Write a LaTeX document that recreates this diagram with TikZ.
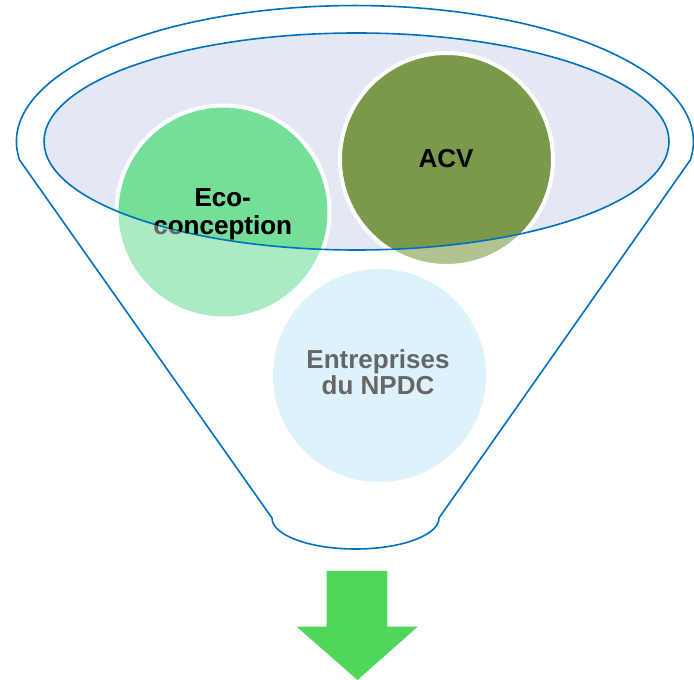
\documentclass[tikz,border=0pt]{standalone}
\usepackage{fontspec}
\setmainfont{Liberation Sans}
\definecolor{funnelblue}{HTML}{0070C0}
\definecolor{rimfill}{HTML}{E3E8F3}
\definecolor{ecodark}{HTML}{73DF98}
\definecolor{ecolight}{HTML}{AAEBC3}
\definecolor{acvdark}{HTML}{7A994A}
\definecolor{acvlight}{HTML}{B0C391}
\definecolor{entfill}{HTML}{DDF2FB}
\definecolor{arrowgreen}{HTML}{4FD75A}
\definecolor{textgray}{HTML}{666666}
\tikzset{
  outline/.style={draw=funnelblue, line width=1.6pt, line join=round},
  bubbleborder/.style={draw=white, line width=4pt},
  lbl/.style={font=\bfseries\fontsize{26}{28}\selectfont, anchor=base, inner sep=0pt},
}
\begin{document}
\begin{tikzpicture}[x=1pt,y=1pt]
\useasboundingbox (0,0) rectangle (694,680);
% funnel outline
\draw[outline] (272,162) -- (19.6,520)
  arc[start angle=187.8, end angle=-7.8, x radius=338.5, y radius=136]
  -- (439,162)
  arc[start angle=0, end angle=-180, x radius=83.5, y radius=31] -- cycle;
% rim fill
\fill[rimfill] (356.5,538.5) ellipse[x radius=312.5, y radius=108.5];
% bubbles (outside parts)
\fill[ecolight] (223,468) circle[radius=106.5];
\fill[acvlight] (446.5,520.5) circle[radius=106.5];
\fill[entfill] (379.5,304.5) circle[radius=106.5];
% bubbles (inside rim)
\begin{scope}
  \clip (356.5,538.5) ellipse[x radius=312.5, y radius=108.5];
  \fill[ecodark] (223,468) circle[radius=106.5];
  \fill[acvdark] (446.5,520.5) circle[radius=106.5];
\end{scope}
\draw[bubbleborder] (223,468) circle[radius=106.5];
\draw[bubbleborder] (446.5,520.5) circle[radius=106.5];
% rim outline
\draw[outline] (356.5,538.5) ellipse[x radius=312.5, y radius=108.5];
% labels
\node[lbl, text=textgray] (eco1o) at (222.7,473.3) {Eco-};
\node[lbl, text=textgray] (eco2o) at (222.7,445.7) {conception};
\begin{scope}
  \clip (356.5,538.5) ellipse[x radius=312.5, y radius=108.5];
  \node[lbl, text=black] (eco1) at (222.7,473.3) {Eco-};
  \node[lbl, text=black] (eco2) at (222.7,445.7) {conception};
\end{scope}
\node[lbl, text=black] (acv) at (446,512) {ACV};
\node[lbl, text=textgray] (ent1) at (378,311) {Entreprises};
\node[lbl, text=textgray] (ent2) at (378,285.7) {du NPDC};
% arrow
\fill[arrowgreen] (326.7,109) -- (387.3,109) -- (387.3,53.3) -- (417.7,53.3)
  -- (357.5,0) -- (296.7,53.3) -- (326.7,53.3) -- cycle;
\end{tikzpicture}
\end{document}
